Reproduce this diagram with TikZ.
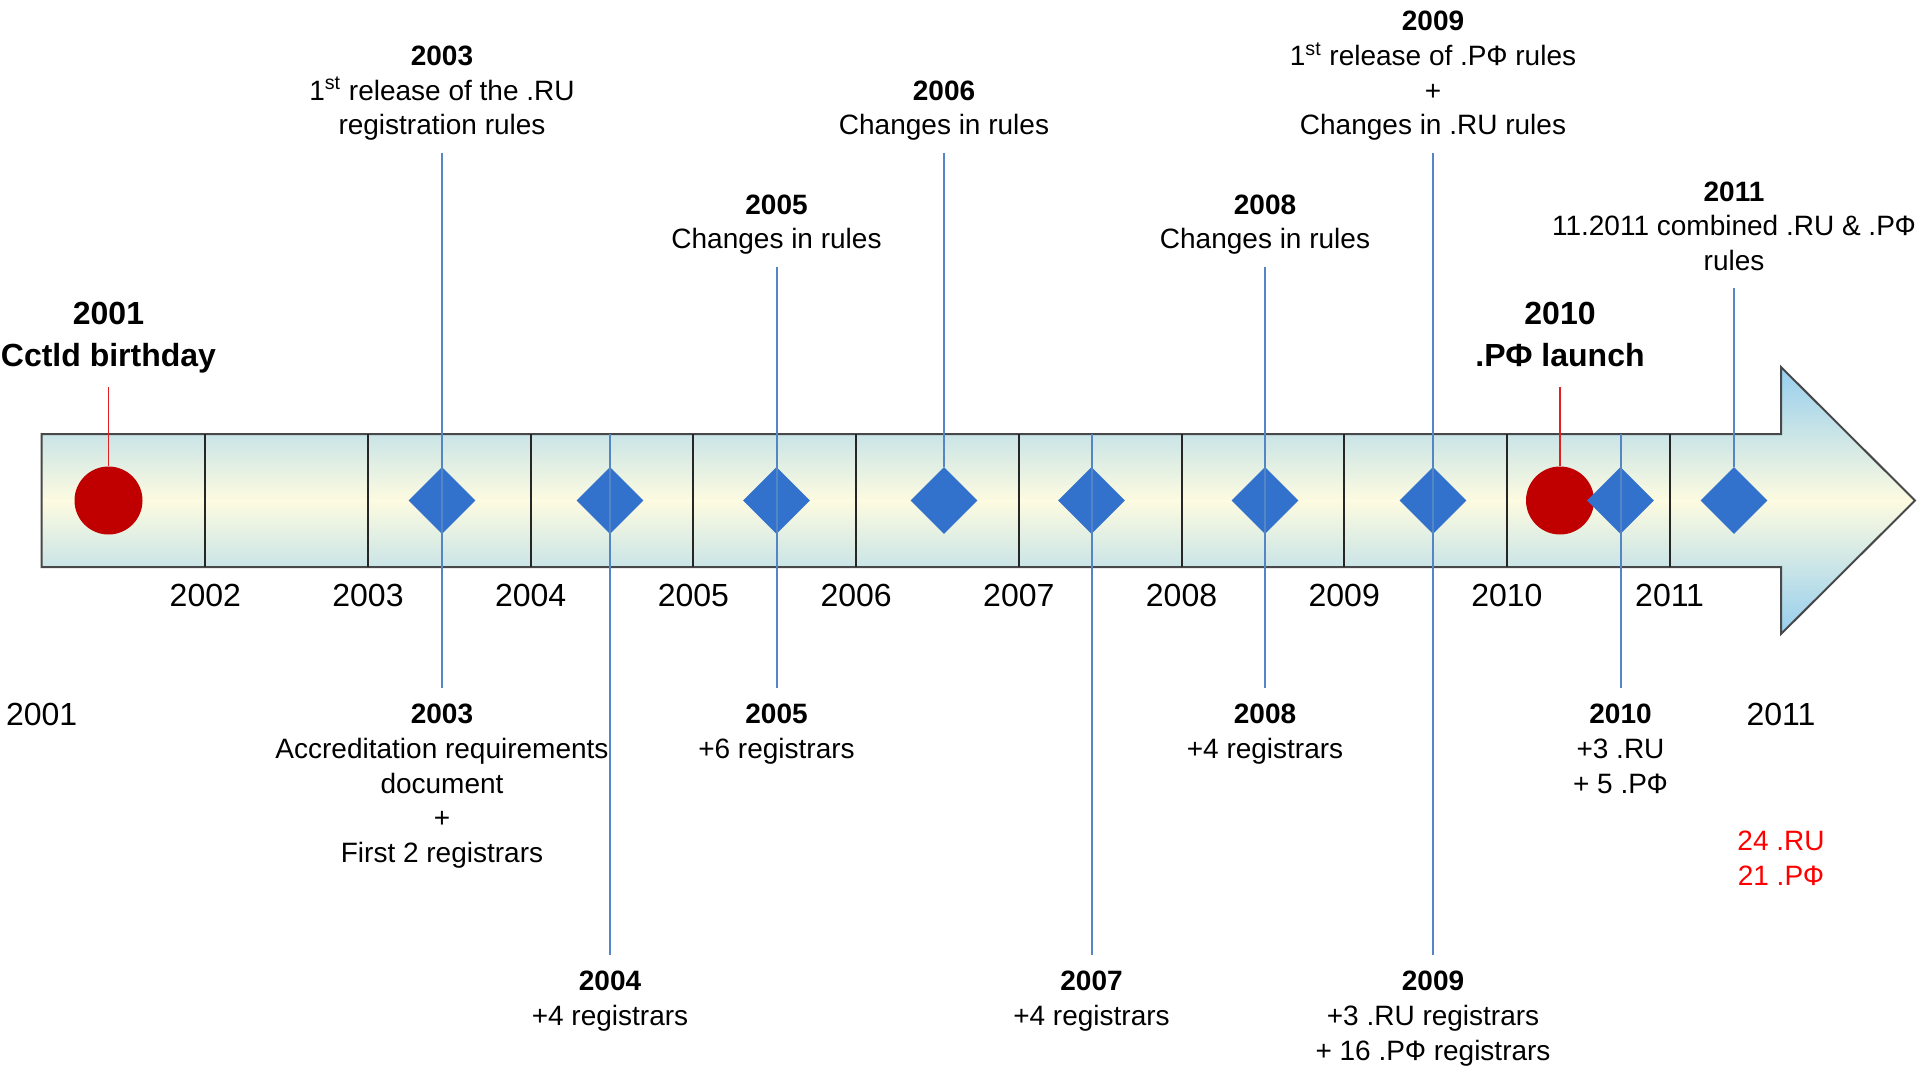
\documentclass[tikz,border=0pt]{standalone}
\usepackage{fontspec}
\setmainfont{Liberation Sans}
\usepackage{xcolor}
\usepackage{tikz}
\usetikzlibrary{shapes.geometric}

\definecolor{evblue}{RGB}{51,114,204}
\definecolor{launchred}{RGB}{192,0,0}
\definecolor{stemblue}{RGB}{84,134,197}
\definecolor{stemred}{RGB}{224,32,32}
\definecolor{bandsky}{RGB}{150,206,238}
\definecolor{bandcream}{RGB}{253,251,224}
\definecolor{bandline}{RGB}{72,72,72}

\begin{document}
\begin{tikzpicture}[x=0.5pt, y=-0.5pt,
      event/.style={diamond, fill=evblue, inner sep=0pt, minimum width=33.5pt, minimum height=33.5pt},
      launch/.style={circle, fill=launchred, inner sep=0pt, minimum size=34pt},
      toplab/.style={anchor=south, align=center, inner sep=6pt, font=\fontsize{14}{17.3}\selectfont},
      botlab/.style={anchor=north, align=center, inner sep=8pt, font=\fontsize{14}{17.3}\selectfont},
      biglab/.style={anchor=south, align=center, inner sep=6.5pt, font=\fontsize{16}{21}\selectfont\bfseries},
      yearlab/.style={font=\fontsize{16}{19}\selectfont},
      stem/.style={draw=stemblue, line width=1pt},
      redstem/.style={draw=stemred, line width=0.8pt}
    ]
    \useasboundingbox (0,0) rectangle (1920,1065);

    % time band with arrow head
    \path[draw=bandline, line width=1pt, top color=bandsky, bottom color=bandsky, middle color=bandcream]
      (41.7,434) -- (1781,434) -- (1781,367) -- (1915,500.5) -- (1781,634) -- (1781,567) -- (41.7,567) -- cycle;
    \coordinate (bandtop) at (0,434);
    \foreach \k in {0,...,9}
      \draw[line width=1pt, black!85] (205.3+\k*162.7,434) -- (205.3+\k*162.7,567);

    % years
    \foreach \yr [count=\k from 0] in {2002,...,2011}
      \node[yearlab] (yr\yr) at (205.3+\k*162.7,595) {\yr};
    \node[yearlab] (yr2001) at (41.7,714) {2001};
    \node[yearlab] (yrend) at (1781,714) {2011};

    % markers
    \node[launch] (e01) at (108.5,500.5) {};
    \node[event] (d03) at (442,500.5) {};
    \node[event] (d04) at (610,500.5) {};
    \node[event] (d05) at (776.5,500.5) {};
    \node[event] (d06) at (944,500.5) {};
    \node[event] (d07) at (1091.5,500.5) {};
    \node[event] (d08) at (1265,500.5) {};
    \node[event] (d09) at (1433,500.5) {};
    \node[launch] (e10) at (1560,500.5) {};
    \node[event] (d10) at (1620.5,500.5) {};
    \node[event] (d11) at (1734,500.5) {};

    % labels above
    \node[biglab] (c01) at (108.5,387) {2001\\Cctld birthday};
    \node[biglab, inner ysep=10pt] (c10) at (1560,387) {2010\\.РФ launch};
    \node[toplab] (t03) at (442,153) {\textbf{2003}\\1\textsuperscript{st} release of the .RU\\registration rules};
    \node[toplab] (t05) at (776.5,267) {\textbf{2005}\\Changes in rules};
    \node[toplab] (t06) at (944,153) {\textbf{2006}\\Changes in rules};
    \node[toplab] (t08) at (1265,267) {\textbf{2008}\\Changes in rules};
    \node[toplab] (t09) at (1433,153) {\textbf{2009}\\1\textsuperscript{st} release of .РФ rules\\+\\Changes in .RU rules};
    \node[toplab, inner ysep=8.5pt] (t11) at (1734,288) {\textbf{2011}\\11.2011 combined .RU \& .РФ\\rules};

    % labels below
    \node[botlab] (b03) at (442,688) {\textbf{2003}\\Accreditation requirements\\document\\+\\First 2 registrars};
    \node[botlab] (b04) at (610,955) {\textbf{2004}\\+4 registrars};
    \node[botlab] (b05) at (776.5,688) {\textbf{2005}\\+6 registrars};
    \node[botlab] (b07) at (1091.5,955) {\textbf{2007}\\+4 registrars};
    \node[botlab] (b08) at (1265,688) {\textbf{2008}\\+4 registrars};
    \node[botlab] (b09) at (1433,955) {\textbf{2009}\\+3 .RU registrars\\+ 16 .РФ registrars};
    \node[botlab] (b10) at (1620.5,688) {\textbf{2010}\\+3 .RU\\+ 5 .РФ};
    \node[align=center, text=red, font=\fontsize{14}{17.3}\selectfont] (tally) at (1781,858) {24 .RU\\21 .РФ};

    % stems
    \draw[redstem] (c01) -- (e01);
    \draw[redstem] (c10) -- (e10);
    \draw[stem] (t03) -- (b03);
    \draw[stem] (d04 |- bandtop) -- (b04);
    \draw[stem] (t05) -- (b05);
    \draw[stem] (t06) -- (d06);
    \draw[stem] (d07 |- bandtop) -- (b07);
    \draw[stem] (t08) -- (b08);
    \draw[stem] (t09) -- (b09);
    \draw[stem] (d10 |- bandtop) -- (b10);
    \draw[stem] (t11) -- (d11);
  \end{tikzpicture}
\end{document}
